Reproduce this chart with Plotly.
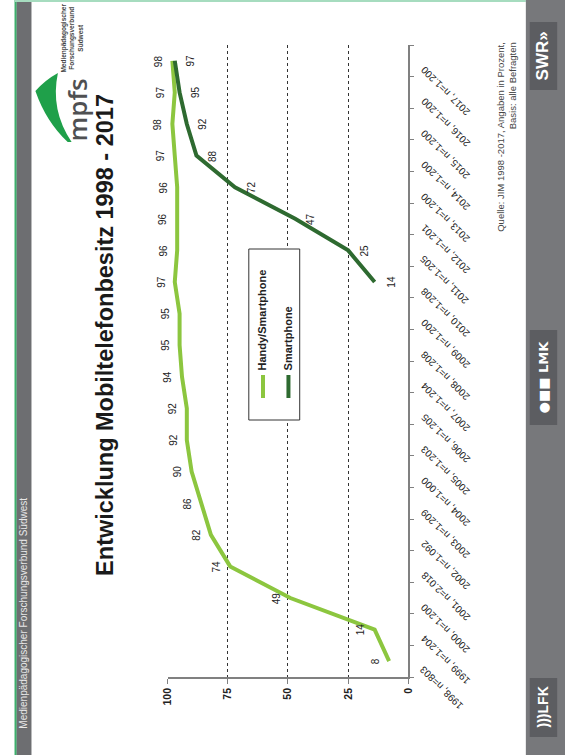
import plotly.graph_objects as go

W, H = 570, 755

# ---- data -------------------------------------------------------------
years = [1998, 1999, 2000, 2001, 2002, 2003, 2004, 2005, 2006, 2007,
         2008, 2009, 2010, 2011, 2012, 2013, 2014, 2015, 2016, 2017]
sample_sizes = ["803", "1.204", "1.200", "2.018", "1.092", "1.209", "1.000",
                "1.203", "1.205", "1.204", "1.208", "1.200", "1.208", "1.205",
                "1.201", "1.200", "1.200", "1.200", "1.200", "1.200"]
handy_smartphone = [8, 14, 49, 74, 82, 86, 90, 92, 92, 94,
                    95, 95, 97, 96, 96, 96, 97, 98, 97, 98]
smartphone_years = [2010, 2011, 2012, 2013, 2014, 2015, 2016, 2017]
smartphone = [14, 25, 47, 72, 88, 92, 95, 97]
value_ticks = [0, 25, 50, 75, 100]
series_names = ["Handy/Smartphone", "Smartphone"]

category_labels = [f"{y}, n={n}" for y, n in zip(years, sample_sizes)]

# ---- style ------------------------------------------------------------
LIGHT = "#8cc63f"
DARK = "#2e6a30"
AXIS = "#808080"
TXT = "#222222"
FONT = "Liberation Sans, Arial, sans-serif"


def px(x):
    return x / W


def py(y):
    return 1 - y / H


def label(x, y, text, size, color=TXT, weight="normal", family=FONT, **kw):
    """Page-level text turned by 90 degrees, centred on (x, y) in pixels."""
    d = dict(x=px(x), y=py(y), xref="paper", yref="paper", text=text,
             textangle=-90, showarrow=False, xanchor="center", yanchor="middle",
             font=dict(size=size, color=color, family=family, weight=weight))
    d.update(kw)
    return d


idx = list(range(len(years)))
smart_idx = [years.index(y) for y in smartphone_years]

fig = go.Figure()
fig.add_trace(go.Scatter(x=handy_smartphone, y=idx, mode="lines",
                         line=dict(color=LIGHT, width=4), name=series_names[0],
                         cliponaxis=False, hoverinfo="skip"))
fig.add_trace(go.Scatter(x=smartphone, y=smart_idx, mode="lines",
                         line=dict(color=DARK, width=4), name=series_names[1],
                         cliponaxis=False, hoverinfo="skip"))

ann = []

# value labels next to every point (page is turned on its side)
for i, v in zip(idx, handy_smartphone):
    ann.append(dict(x=v, y=i, xref="x", yref="y", text=str(v), textangle=-90,
                    xshift=-14, showarrow=False, xanchor="center", yanchor="middle",
                    font=dict(size=10, color=TXT, family=FONT)))
for i, v in zip(smart_idx, smartphone):
    ann.append(dict(x=v, y=i, xref="x", yref="y", text=str(v), textangle=-90,
                    xshift=16, showarrow=False, xanchor="center", yanchor="middle",
                    font=dict(size=10, color=TXT, family=FONT)))

# slanted category labels
for i, lab in zip(idx, category_labels):
    ann.append(dict(x=px(417), y=i, xref="paper", yref="y", text=lab,
                    textangle=-135, xanchor="left", yanchor="top",
                    showarrow=False,
                    font=dict(size=10, color=TXT, family=FONT)))

# title
ann.append(label(100, 335, "Entwicklung Mobiltelefonbesitz 1998 - 2017", 23.5,
                 color="#1a1a1a", weight="bold"))

# source note
ann.append(label(509.5, 40,
                 "Quelle: JIM 1998 -2017, Angaben in Prozent,<br>Basis: alle Befragten",
                 9.5, color="#444444", yanchor="top", align="right"))

# legend
leg_x = [261.5, 287.5]
leg_colors = [LIGHT, DARK]
for lx, name in zip(leg_x, series_names):
    ann.append(label(lx, 372, name, 11, weight="bold", yanchor="bottom"))

# side strip text
ann.append(label(16.5, 731, "Medienpädagogischer Forschungsverbund Südwest", 10,
                 color="#e8e8e8", yanchor="bottom"))

# mpfs logo
ann.append(label(71, 110, "mpfs", 26, color="#4f5052", weight=600,
                 family="Open Sans, " + FONT))
ann.append(label(66, 38, "Medienpädagogischer<br>Forschungsverbund<br>Südwest", 6.5,
                 color="#444444", weight="bold", align="center"))

# partner logos in the right strip
ann.append(label(548, 56, "SWR»", 17, color="white", weight="bold"))
ann.append(label(548, 377, "●■■ LMK", 13, color="white", weight="bold",
                 family="DejaVu Sans, " + FONT))
ann.append(label(548, 707, ")))LFK", 14, color="white", weight="bold"))


def rect(x0, y0, x1, y1, fill, line=None, layer="below"):
    return dict(type="rect", xref="paper", yref="paper",
                x0=px(x0), x1=px(x1), y0=py(y0), y1=py(y1),
                fillcolor=fill, line=dict(width=1 if line else 0, color=line or fill),
                layer=layer)


def path(points, fill):
    d = "M " + " ".join(
        (f"{c} " if isinstance(c, str) else f"{px(c[0]):.5f},{py(c[1]):.5f} ")
        for c in points) + "Z"
    return dict(type="path", xref="paper", yref="paper", path=d,
                fillcolor=fill, line=dict(width=0), layer="below")


shapes = [
    # left strip
    rect(9.5, 0, 25, H, "#6d6e71"),
    dict(type="line", xref="paper", yref="paper", x0=px(8.7), x1=px(8.7),
         y0=0, y1=1, line=dict(color="#3daf6c", width=2), layer="below"),
    # top rule
    dict(type="line", xref="paper", yref="paper", x0=px(8), x1=px(530),
         y0=py(1), y1=py(1), line=dict(color="#a6dcbf", width=2), layer="below"),
    # right strip and logo boxes
    rect(530, 0, 570, H, "#77787b"),
    rect(534, 22, 562, 90, "#5c5d61"),
    rect(534, 330, 562, 425, "#5c5d61"),
    rect(534, 678, 562, 737, "#5c5d61"),
    # green swoosh of the mpfs logo
    path([(52, 73), "Q", (39, 80), (29, 91), "Q", (40, 122), (62, 142),
          "L", (66, 142), "Q", (44, 110), (52, 73)], "#1fa04a"),
    # legend frame
    rect(247, 249, 299, 420, "white", line="#333333", layer="above"),
]
for lx, c in zip(leg_x, leg_colors):
    shapes.append(dict(type="line", xref="paper", yref="paper",
                       x0=px(lx), x1=px(lx), y0=py(375), y1=py(398),
                       line=dict(color=c, width=4), layer="above"))

fig.update_layout(
    width=W, height=H,
    margin=dict(l=0, r=0, t=0, b=0),
    paper_bgcolor="white", plot_bgcolor="rgba(0,0,0,0)",
    showlegend=False,
    xaxis=dict(domain=[px(164), px(410)], range=[100, 0],
               tickvals=value_ticks, ticktext=[str(v) for v in value_ticks],
               tickangle=-90, ticks="outside", ticklen=5, tickcolor=AXIS,
               showline=True, linecolor=AXIS, linewidth=1.5,
               showgrid=True, gridcolor="#333333", griddash="dot", gridwidth=1,
               zeroline=False, fixedrange=True,
               tickfont=dict(size=10.5, color=TXT, family=FONT, weight="bold")),
    yaxis=dict(domain=[py(677), py(45)], range=[-0.5, len(years) - 0.5],
               side="right", showline=True, linecolor=AXIS, linewidth=1.5,
               ticks="outside", ticklen=4, tickcolor=AXIS,
               tickvals=[i - 0.5 for i in range(len(years) + 1)],
               showticklabels=False, showgrid=False, zeroline=False,
               fixedrange=True),
    annotations=ann,
    shapes=shapes,
)

fig.write_html("out.html")
